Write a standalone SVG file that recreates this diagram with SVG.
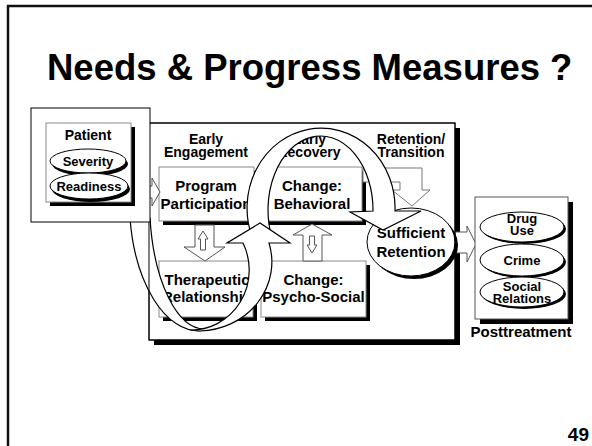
<svg xmlns="http://www.w3.org/2000/svg" width="592" height="446" viewBox="0 0 592 446">
<style>
text{font-family:"Liberation Sans",Arial,sans-serif;font-weight:bold;fill:#000;text-anchor:middle}
.t{font-size:36.5px;text-anchor:start}
.h{font-size:14px}
.b{font-size:15px}
.e{font-size:13px}
.box{fill:#fff;stroke:#8a8a8a;stroke-width:1}
.sh{fill:#000}
.ell{fill:#fff;stroke:#000;stroke-width:1}
.ha{fill:#fff;stroke:#555;stroke-width:1}
.arc{fill:#fff;stroke:#000;stroke-width:1.2;stroke-linejoin:miter}
</style>
<rect x="0" y="0" width="592" height="446" fill="#fff"/>
<rect x="8" y="6" width="600" height="460" fill="none" stroke="#111" stroke-width="2.5"/>
<text class="t" x="47" y="80">Needs &amp; Progress Measures ?</text>

<g id="main">
<rect x="154" y="128" width="306" height="217" class="sh"/>
<rect x="149" y="123" width="306" height="217" fill="#fff" stroke="#000" stroke-width="1"/>
</g>

<g id="headers">
<text class="h" x="206" y="143.5">Early</text>
<text class="h" x="206" y="157">Engagement</text>
<text class="h" x="309" y="143.5">Early</text>
<text class="h" x="309" y="157">Recovery</text>
<text class="h" x="411" y="143.5">Retention/</text>
<text class="h" x="411" y="157">Transition</text>
</g>

<g id="program">
<rect x="163" y="171" width="95" height="54" class="sh"/>
<rect x="159" y="167" width="95" height="54" class="box"/>
<text class="b" x="206" y="191">Program</text>
<text class="b" x="206" y="209">Participation</text>
</g>
<g id="behavioral">
<rect x="266" y="171" width="100" height="54" class="sh"/>
<rect x="262" y="167" width="100" height="54" class="box"/>
<text class="b" x="312" y="191">Change:</text>
<text class="b" x="312" y="209">Behavioral</text>
</g>
<g id="therapeutic">
<rect x="163" y="265" width="94" height="56" class="sh"/>
<rect x="159" y="261" width="94" height="56" class="box"/>
<text class="b" x="207" y="285">Therapeutic</text>
<text class="b" x="207" y="302">Relationship</text>
</g>
<g id="psychosocial">
<rect x="265" y="265" width="105" height="56" class="sh"/>
<rect x="261" y="261" width="105" height="56" class="box"/>
<text class="b" x="313.5" y="285">Change:</text>
<text class="b" x="313.5" y="302">Psycho-Social</text>
</g>

<g id="connectors">
<polygon class="ha" points="195,225 214,225 214,247 225,247 205,261 184,247 195,247"/>
<polygon class="ha" points="203,231 208,239 205.5,239 205.5,250 200.5,250 200.5,239 198,239"/>
<polygon class="ha" points="312,224 332,235 322,235 322,261 303,261 303,235 293,235"/>
<polygon class="ha" points="309.5,236 314.5,236 314.5,245 317,245 312,253 307,245 309.5,245"/>
<polygon points="363,168 422,168 422,190 430,190 412,206 392,190 400,190 400,182 363,182" fill="#fff" stroke="#777" stroke-width="1"/>
<polygon class="ha" points="143,186 152,186 152,178 160,192 152,206 152,198 143,198"/>
<polygon class="ha" points="455,232 467,232 467,226 476,244 467,262 467,253 455,253"/>
</g>

<g id="retention">
<ellipse cx="414" cy="245" rx="44" ry="34" class="sh"/>
<ellipse cx="411" cy="242" rx="44" ry="34" class="ell"/>
<text class="b" x="411" y="238">Sufficient</text>
<text class="b" x="411" y="257">Retention</text>
</g>

<g id="arcs">
<path class="arc" d="M 252.4,238 A 74 80 0 1 1 395,211 L 421,211 L 383,230 L 350,212 L 373,211 A 52.5 74 0 1 0 271.9,238 Z"/>
<path class="arc" d="M 130,218 A 70 131 0 0 0 200,331 L 205,329 A 55 129 0 0 1 150,218 Z"/>
<path class="arc" d="M 200,331 A 74 69 0 0 0 269,243 L 290,243 L 260,223 L 227,243 L 243,243 A 58 60 0 0 1 190,330 Z"/>
</g>
<rect x="149" y="123" width="306" height="217" fill="none" stroke="#000" stroke-width="1"/>

<g id="patient">
<rect x="31" y="108" width="119" height="114" fill="#fff" stroke="#000" stroke-width="1"/>
<rect x="50" y="127" width="85" height="79" class="sh"/>
<rect x="46" y="123" width="85" height="79" class="box"/>
<text class="h" x="88" y="140">Patient</text>
<ellipse cx="90" cy="164" rx="38" ry="12" class="sh"/>
<ellipse cx="88" cy="161" rx="38" ry="12" class="ell"/>
<text class="e" x="88" y="166">Severity</text>
<ellipse cx="91" cy="189" rx="39" ry="13" class="sh"/>
<ellipse cx="89" cy="186" rx="39" ry="13" class="ell"/>
<text class="e" x="89" y="191">Readiness</text>
</g>

<g id="posttreatment">
<rect x="480" y="202" width="93" height="122" class="sh"/>
<rect x="475" y="197" width="93" height="122" fill="#fff" stroke="#555" stroke-width="1"/>
<ellipse cx="524" cy="229" rx="42" ry="15" class="sh"/>
<ellipse cx="522" cy="227" rx="42" ry="15" class="ell"/>
<text class="e" x="522" y="222.5">Drug</text>
<text class="e" x="522" y="235">Use</text>
<ellipse cx="524" cy="262" rx="42" ry="16" class="sh"/>
<ellipse cx="522" cy="260" rx="42" ry="16" class="ell"/>
<text class="e" x="522" y="265">Crime</text>
<ellipse cx="524" cy="294" rx="42" ry="15" class="sh"/>
<ellipse cx="522" cy="292" rx="42" ry="15" class="ell"/>
<text class="e" x="522" y="290.5">Social</text>
<text class="e" x="522" y="303">Relations</text>
<text class="b" x="521" y="337">Posttreatment</text>
</g>

<text x="589" y="441" style="font-size:19px;text-anchor:end">49</text>
</svg>
